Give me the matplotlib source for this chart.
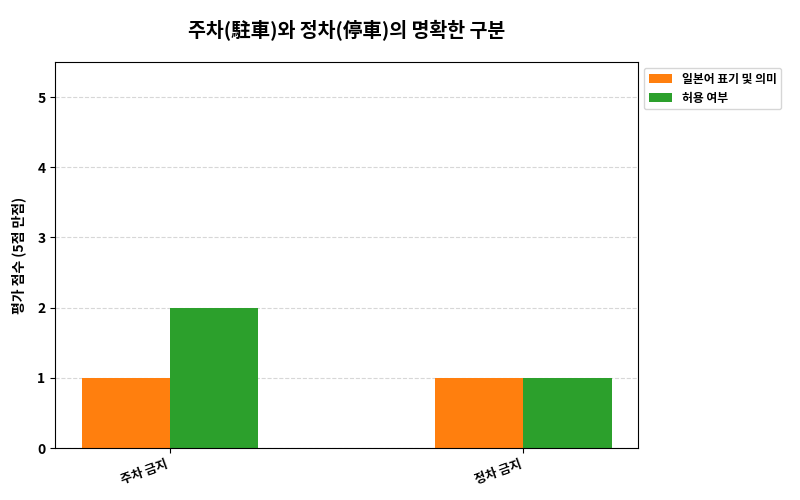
import numpy as np
import matplotlib.pyplot as plt

plt.rcParams['font.family'] = ['Noto Sans CJK KR', 'DejaVu Sans']

# Data
categories = ["주차 금지", "정차 금지"]
japanese_notation = [1, 1]
allowed = [2, 1]
series_names = ["일본어 표기 및 의미", "허용 여부"]

x = np.arange(len(categories))
width = 0.25

fig, ax = plt.subplots(figsize=(8, 5), dpi=100)
fig.subplots_adjust(left=0.069, right=0.7975, top=0.876, bottom=0.104)

ax.bar(x - width / 2, japanese_notation, width, color="#ff7f0e", label=series_names[0])
ax.bar(x + width / 2, allowed, width, color="#2ca02c", label=series_names[1])

ax.set_title("주차(駐車)와 정차(停車)의 명확한 구분", fontsize=14, fontweight="bold", pad=18)
ax.set_ylabel("평가 점수 (5점 만점)", fontsize=10, fontweight="bold", labelpad=8)
ax.set_ylim(0, 5.5)
ax.set_xticks(x)
ax.set_xticklabels(categories, rotation=20, ha="right", fontsize=9, fontweight="bold")
for lbl in ax.get_yticklabels():
    lbl.set_fontweight("bold")
    lbl.set_fontsize(10)
ax.grid(axis="y", linestyle="--", alpha=0.5)
ax.set_axisbelow(True)

leg = ax.legend(loc="upper left", bbox_to_anchor=(1.0, 1.0), fontsize=8.5)
for t in leg.get_texts():
    t.set_fontweight("bold")

fig.savefig("out.png", dpi=100)
